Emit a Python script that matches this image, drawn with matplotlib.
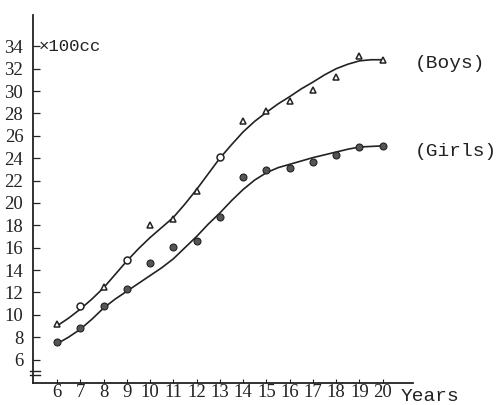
import numpy as np
import matplotlib.pyplot as plt

# ages (years)
ages = [6, 7, 8, 9, 10, 11, 12, 13, 14, 15, 16, 17, 18, 19, 20]

# measured points, x100 cc
boys_pts = [9.2, 10.8, 12.5, 14.9, 18.0, 18.6, 21.1, 24.1, 27.3, 28.2, 29.1, 30.1, 31.3, 33.1, 32.8]
girls_pts = [7.6, 8.8, 10.8, 12.3, 14.6, 16.1, 16.6, 18.7, 22.3, 22.9, 23.1, 23.7, 24.3, 25.0, 25.1]
boys_mk = ['^', 'o', '^', 'o', '^', '^', '^', 'o', '^', '^', '^', '^', '^', '^', '^']

# hand-drawn curves, every half year
curve_ages = [6, 6.5, 7, 7.5, 8, 8.5, 9, 9.5, 10, 10.5, 11, 11.5, 12, 12.5, 13, 13.5,
              14, 14.5, 15, 15.5, 16, 16.5, 17, 17.5, 18, 18.5, 19, 19.5, 20]
boys_curve = [9.0, 9.7, 10.5, 11.4, 12.4, 13.6, 14.8, 15.9, 16.9, 17.8, 18.7, 19.9, 21.2, 22.6,
              24.0, 25.2, 26.35, 27.3, 28.1, 28.85, 29.5, 30.2, 30.8, 31.45, 32.0, 32.4, 32.7, 32.8, 32.8]
girls_curve = [7.4, 8.0, 8.7, 9.6, 10.6, 11.4, 12.1, 12.8, 13.5, 14.2, 15.0, 16.0, 17.0, 18.1,
               19.1, 20.2, 21.2, 22.05, 22.7, 23.15, 23.45, 23.75, 24.05, 24.3, 24.55, 24.8, 25.0, 25.05, 25.1]

yticks = [6, 8, 10, 12, 14, 16, 18, 20, 22, 24, 26, 28, 30, 32, 34]

ink = '#222222'
fig = plt.figure(figsize=(5.01, 4.05), dpi=100)
ax = fig.add_axes([33/501, 22/405, 380/501, 368/405])

ax.plot(curve_ages, boys_curve, color=ink, lw=1.2)
ax.plot(curve_ages, girls_curve, color=ink, lw=1.2)
for a, v, m in zip(ages, boys_pts, boys_mk):
    ax.plot(a, v, marker=m, ms=5, mfc='white', mec=ink, mew=1.1, ls='none')
ax.plot(ages, girls_pts, 'o', ms=5, mfc='#555555', mec=ink, mew=0.8, ls='none')

ax.set_xlim(4.97, 21.3)
ax.set_ylim(3.9, 36.8)
for s in ['top', 'right']:
    ax.spines[s].set_visible(False)
for s in ['left', 'bottom']:
    ax.spines[s].set_color(ink)
    ax.spines[s].set_linewidth(1.3)

ax.set_xticks(ages)
ax.set_xticklabels([str(a) for a in ages], family='Liberation Serif', fontsize=13.5)
ax.set_yticks(yticks)
ax.set_yticklabels([str(v) for v in yticks], family='Liberation Serif', fontsize=13.5)
ax.tick_params(axis='x', direction='in', length=3, width=0.8, color=ink, pad=1, labelcolor=ink)
ax.tick_params(axis='y', direction='in', length=5, width=0.9, color=ink, pad=7, labelcolor=ink)

# axis break marks
for yy in [4.6, 5.0]:
    ax.plot([4.85, 5.25], [yy, yy], color=ink, lw=1.0, clip_on=False)

ax.text(5.2, 34, '×100cc', family='Liberation Mono', fontsize=12.5, va='center', color=ink)
ax.text(21.37, 32.5, '(Boys)', family='Liberation Mono', fontsize=14, va='center', color=ink,
        clip_on=False)
ax.text(21.37, 24.6, '(Girls)', family='Liberation Mono', fontsize=14, va='center', color=ink,
        clip_on=False)
ax.text(20.77, 2.7, 'Years', family='Liberation Mono', fontsize=14, va='center', color=ink,
        clip_on=False)

fig.savefig('out.png', dpi=100)
